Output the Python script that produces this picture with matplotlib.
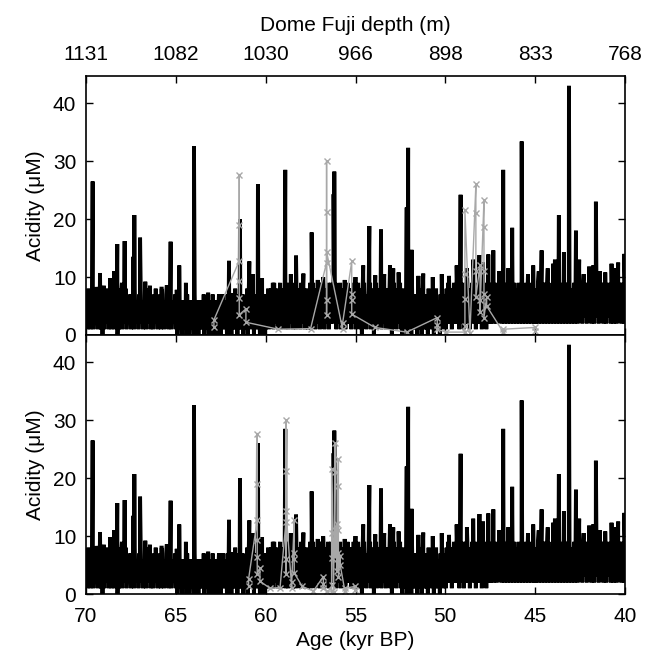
import matplotlib.pyplot as plt
import numpy as np

plt.rcParams['font.family'] = ['Liberation Sans', 'DejaVu Sans']

# background acidity (uM), hand-read band, one digit per sample, 70 -> 40 kyr BP
bg_digits = (
    "271836172815263718271605172836152718261736051827163728152637"
    "162718352617283615271826371526172835162718261537261827153627"
    "150615260516250716052615071625061516270615260516071526051607"
    "061725160726170615281607261517062618072516270617251608261706"
    "172816382719263817291628371829163728172916382719263817281639"
    "182937182839172938162839182937283918273916283817293827183928"
    "172938160829371628391728063917283816293718283917062938172839"
    "160827150726170816271506281607261715082716250718261607281527"
    "182937281839272938182839172938281739283918273829183927183928"
    "293827392839382739283928372938293728392839283729382739283928"
    "283929382739293829372839293829372839283928392938273928392839"
    "392839382938392839293839283938293928393829382939283938293928"
)

# volcanic spikes (age kyr BP, acidity uM)
spike_age = [69.63, 69.22, 68.66, 68.44, 68.26, 67.85, 67.37, 67.31, 66.99, 66.44,
             65.29, 64.81, 64.44, 63.99, 62.04, 61.43, 60.91, 60.43, 58.91, 58.31,
             57.44, 56.22, 56.18, 54.57, 54.23, 53.58, 53.08, 52.90, 52.15, 52.07,
             51.88, 51.23, 49.37, 49.15, 48.45, 47.61, 47.33, 46.78, 46.28, 45.75,
             45.11, 44.64, 44.00, 43.68, 43.12, 42.73, 42.55, 41.77, 41.62, 40.75,
             40.38, 40.04]
spike_val = [26.5, 10.7, 9.8, 11.0, 15.7, 16.2, 13.5, 20.7, 16.8, 8.5,
             16.1, 12.0, 9.0, 32.6, 12.8, 20.0, 12.7, 26.0, 28.5, 13.7,
             17.7, 24.3, 28.2, 12.0, 18.8, 18.2, 12.0, 11.5, 22.0, 32.3,
             14.7, 10.6, 12.0, 24.2, 13.0, 13.9, 14.6, 28.5, 18.5, 33.4,
             12.0, 14.6, 12.3, 20.7, 43.0, 18.0, 13.0, 12.0, 23.0, 12.3,
             12.5, 14.0]

# smaller bumps along the top of the band
minor_age = [69.40, 69.00, 68.00, 66.70, 65.80, 65.50, 64.95, 63.20, 62.60, 61.90,
             60.70, 60.20, 59.60, 59.20, 58.60, 57.90, 57.10, 56.80, 55.60, 55.00,
             53.90, 53.40, 52.60, 51.50, 50.70, 50.20, 49.80, 48.80, 48.10, 47.90,
             47.00, 46.50, 45.40, 44.80, 44.30, 43.90, 43.40, 42.30, 42.00, 41.40,
             41.10, 40.60]
minor_val = [8.3, 8.5, 9.0, 9.2, 8.0, 8.6, 7.8, 7.3, 7.0, 7.2,
             10.5, 9.8, 9.0, 8.8, 10.5, 10.6, 9.5, 10.0, 9.5, 10.0,
             10.3, 10.5, 10.8, 10.2, 10.0, 10.5, 10.2, 11.5, 13.8, 12.5,
             11.0, 11.5, 10.5, 11.0, 11.5, 13.0, 14.3, 10.5, 11.8, 11.0,
             10.8, 11.5]

# grey record: same values on two age scales
grey_val = [1.3, 2.6, 12.8, 19.0, 27.7, 9.3, 6.3, 3.5, 4.5, 2.2,
            1.0, 1.1, 12.5, 21.3, 30.0, 3.5, 6.0, 14.4, 1.0, 2.0,
            12.7, 7.0, 6.0, 3.6, 1.3, 0.5, 3.0, 1.7, 1.0, 0.5,
            0.5, 1.5, 6.2, 10.6, 21.5, 0.3, 26.0, 21.0, 11.0, 6.6,
            12.0, 6.0, 4.0, 23.3, 18.6, 11.0, 7.0, 3.0, 6.5, 5.0,
            0.5, 1.0, 1.3, 0.7]
grey_age_top = [62.88, 62.88, 61.47, 61.47, 61.47, 61.47, 61.47, 61.47, 61.10, 61.10,
                59.30, 57.50, 56.61, 56.61, 56.61, 56.61, 56.61, 56.61, 55.72, 55.72,
                55.21, 55.21, 55.21, 55.21, 53.92, 52.15, 50.45, 50.45, 50.45, 49.97,
                48.91, 48.91, 48.91, 48.91, 48.91, 48.63, 48.30, 48.30, 48.30, 48.30,
                48.07, 48.07, 48.07, 47.85, 47.85, 47.85, 47.85, 47.85, 47.70, 47.70,
                46.78, 46.78, 45.01, 45.01]
grey_age_bot = [60.95, 60.95, 60.47, 60.47, 60.47, 60.47, 60.47, 60.47, 60.32, 60.32,
                59.76, 59.20, 58.87, 58.87, 58.87, 58.87, 58.87, 58.87, 58.55, 58.55,
                58.41, 58.41, 58.41, 58.41, 57.96, 57.35, 56.79, 56.79, 56.79, 56.59,
                56.33, 56.33, 56.33, 56.33, 56.33, 56.22, 56.14, 56.14, 56.14, 56.14,
                56.05, 56.05, 56.05, 55.95, 55.95, 55.95, 55.95, 55.95, 55.85, 55.85,
                55.59, 55.59, 55.03, 55.03]

age_ticks = [70, 65, 60, 55, 50, 45, 40]
depth_labels = ['1131', '1082', '1030', '966', '898', '833', '768']

bg_val = np.array([int(c) for c in bg_digits], dtype=float)
bg_age = np.linspace(70, 40, len(bg_val))
age = np.concatenate([bg_age, spike_age, minor_age])
val = np.concatenate([bg_val, spike_val, minor_val])
order = np.argsort(age)
age, val = age[order], val[order]

fig = plt.figure(figsize=(6.45, 6.54), dpi=100)
ax1 = fig.add_axes([86 / 645, 1 - 335 / 654, 539 / 645, 259 / 654])
ax2 = fig.add_axes([86 / 645, 1 - 594 / 654, 539 / 645, 259 / 654])

for ax, gage in [(ax1, grey_age_top), (ax2, grey_age_bot)]:
    ax.plot(age, val, color='black', lw=2.8, solid_joinstyle='miter')
    ax.plot(gage, grey_val, color='#a8a8a8', lw=1.0, marker='x', ms=4, mew=1.0)
    ax.set_xlim(70, 40)
    ax.set_ylim(0, 44.7)
    ax.set_yticks([0, 10, 20, 30, 40])
    ax.set_xticks(age_ticks)
    ax.set_ylabel('Acidity (μM)', fontsize=15, labelpad=6)
    ax.tick_params(direction='in', length=5, width=1, labelsize=15,
                   top=True, right=True)
    ax.tick_params(axis='y', pad=7)
    ax.tick_params(axis='x', pad=9)
    for s in ax.spines.values():
        s.set_linewidth(1.2)

ax1.set_xticklabels(depth_labels)
ax1.tick_params(labeltop=True, labelbottom=False)
ax1.xaxis.set_label_position('top')
ax1.set_xlabel('Dome Fuji depth (m)', fontsize=15, labelpad=10)
ax2.set_xlabel('Age (kyr BP)', fontsize=15, labelpad=4)

fig.savefig('out.png', dpi=100)
